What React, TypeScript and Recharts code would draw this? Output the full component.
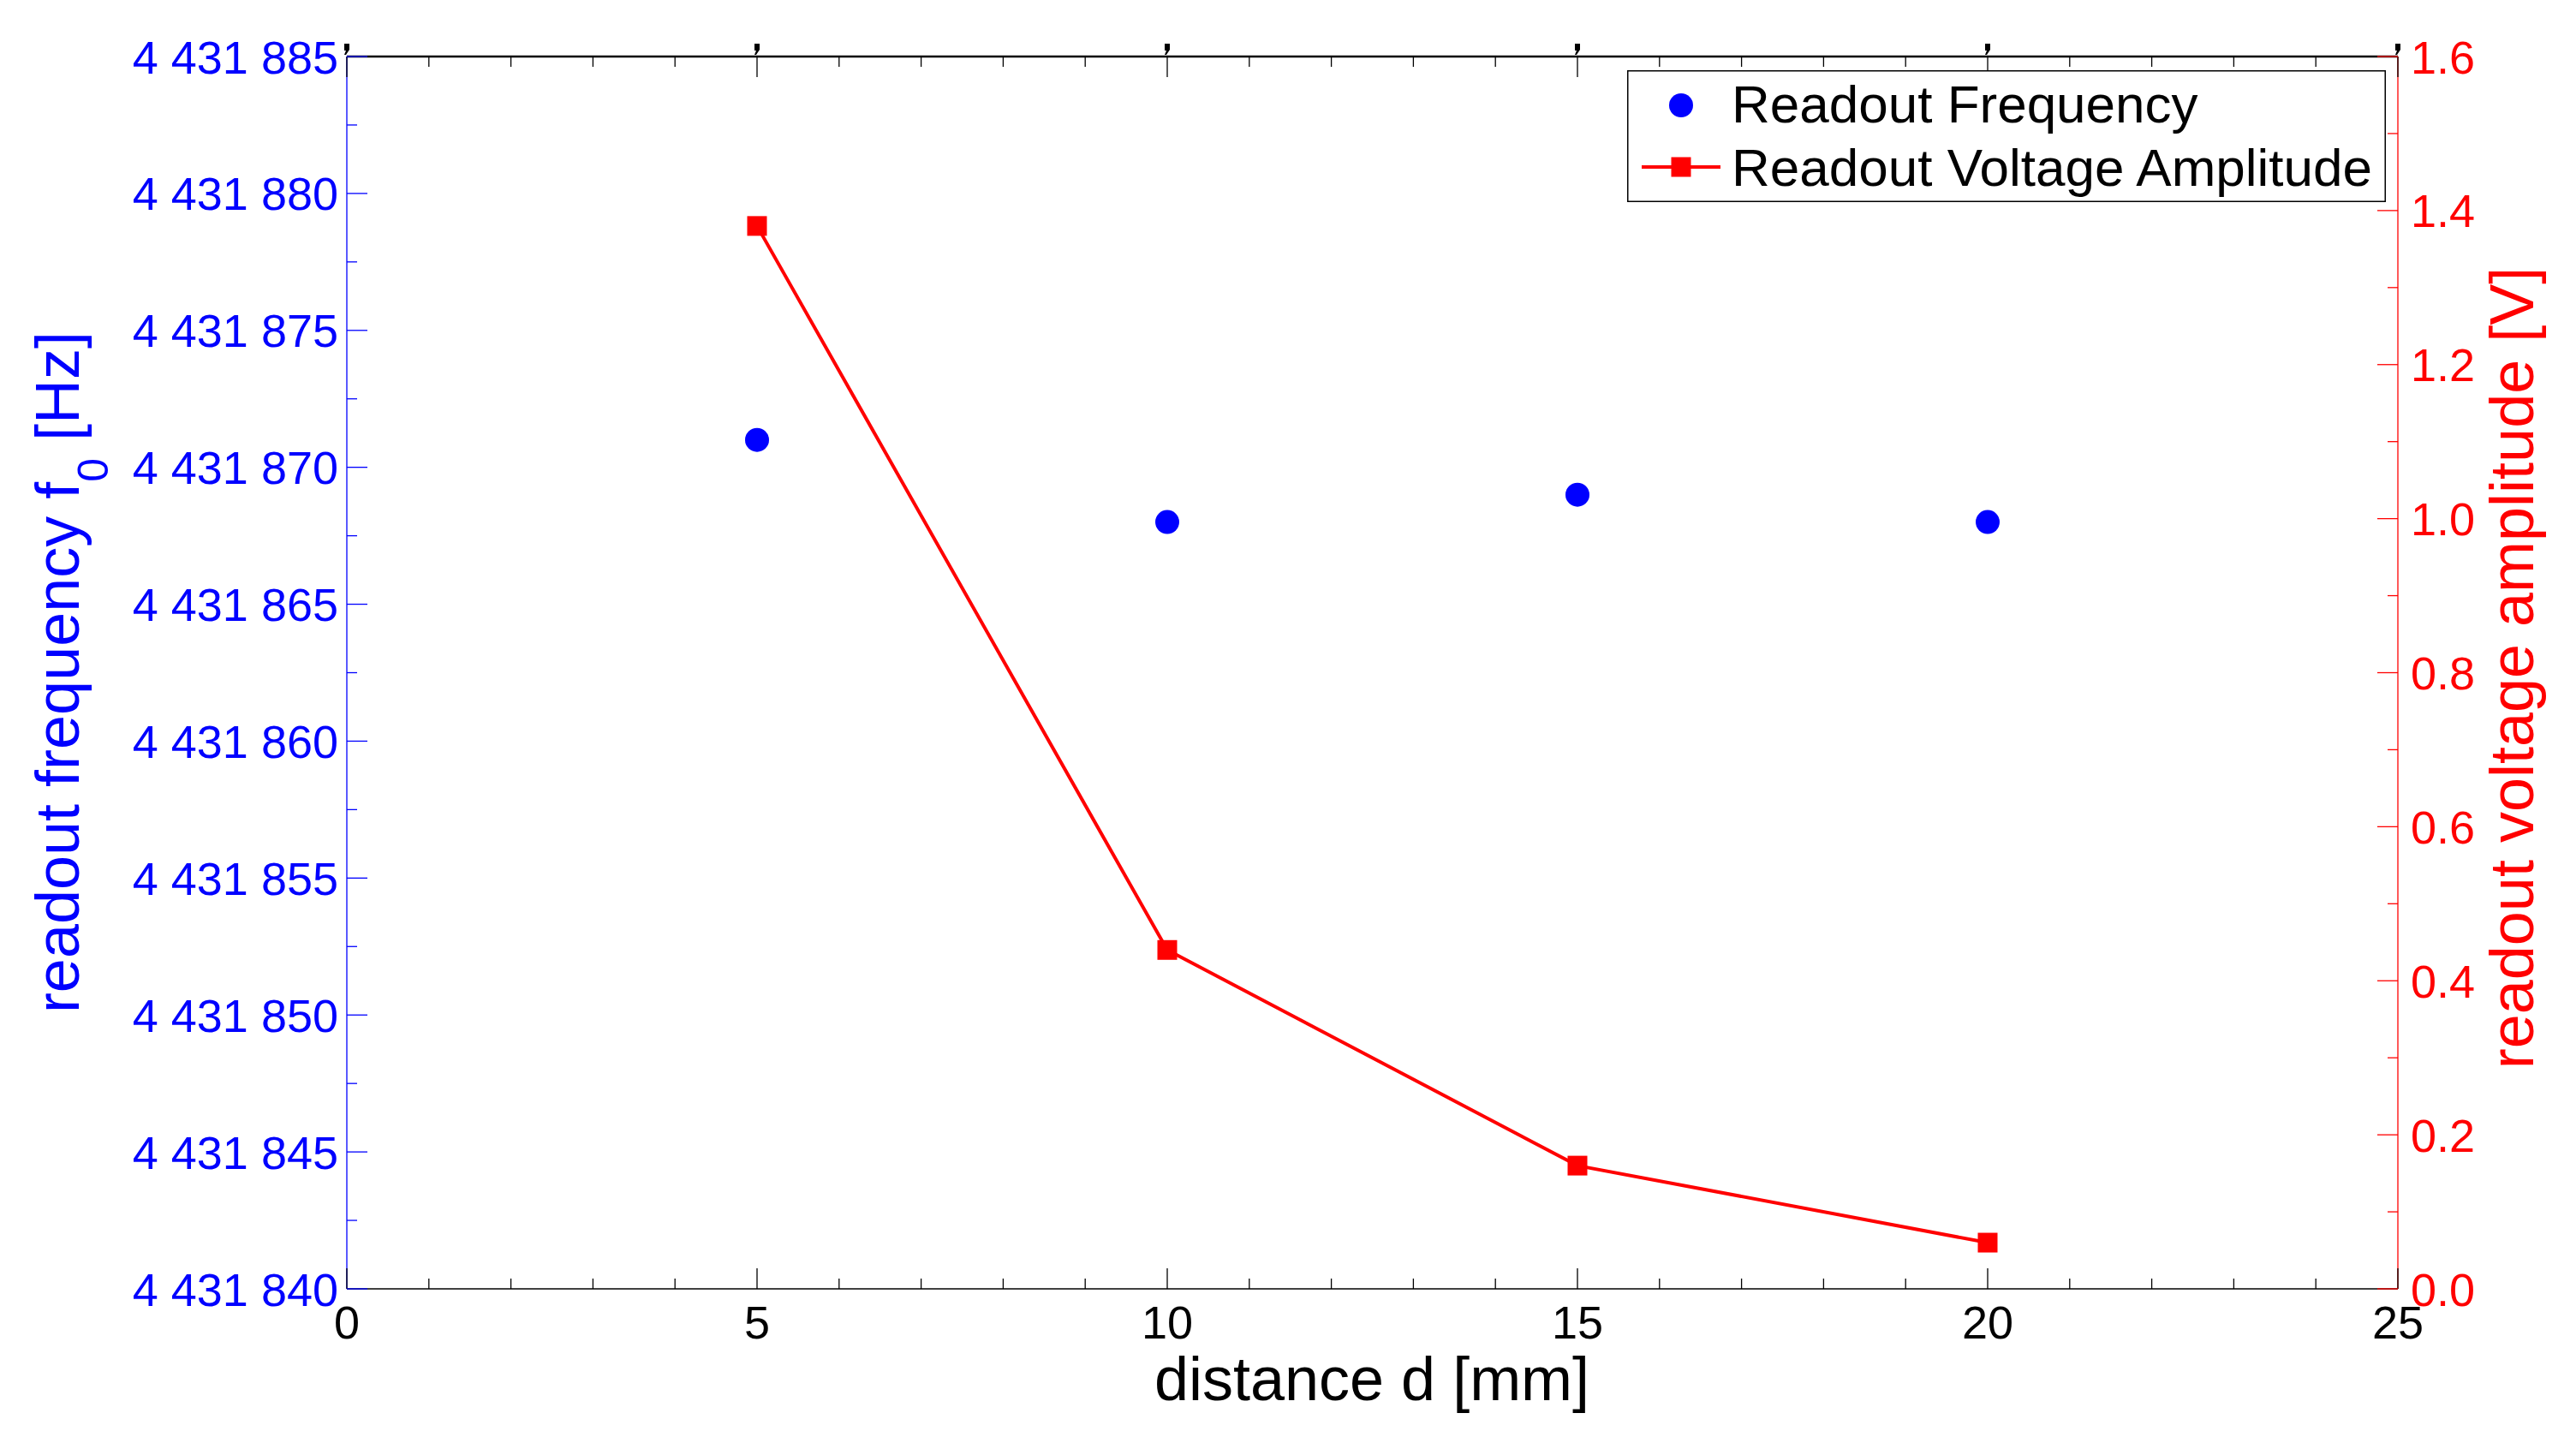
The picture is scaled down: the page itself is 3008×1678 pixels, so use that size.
import React from "react";
import { ComposedChart, Line, Scatter, XAxis, YAxis, Legend, Label } from "recharts";

const distance = [5, 10, 15, 20];
const frequency = [4431871, 4431868, 4431869, 4431868];
const voltage = [1.38, 0.44, 0.16, 0.06];

const xTicks = [0, 1, 2, 3, 4, 5, 6, 7, 8, 9, 10, 11, 12, 13, 14, 15, 16, 17, 18, 19, 20, 21, 22, 23, 24, 25];
const xLabeled = [0, 5, 10, 15, 20, 25];
const freqTicks = [
  4431840, 4431842.5, 4431845, 4431847.5, 4431850, 4431852.5, 4431855, 4431857.5, 4431860, 4431862.5,
  4431865, 4431867.5, 4431870, 4431872.5, 4431875, 4431877.5, 4431880, 4431882.5, 4431885,
];
const freqLabeled = [4431840, 4431845, 4431850, 4431855, 4431860, 4431865, 4431870, 4431875, 4431880, 4431885];
const voltTicks = [0, 0.1, 0.2, 0.3, 0.4, 0.5, 0.6, 0.7, 0.8, 0.9, 1.0, 1.1, 1.2, 1.3, 1.4, 1.5, 1.6];
const voltLabeled = [0, 0.2, 0.4, 0.6, 0.8, 1.0, 1.2, 1.4, 1.6];

const data = distance.map((d, i) => ({ d, freq: frequency[i], volt: voltage[i] }));

const FONT = "'Liberation Sans', Arial, Helvetica, sans-serif";
const BLUE = "#0000FF";
const RED = "#FF0000";
const MAJOR = 24;
const MINOR = 12;

function spaced(v: number) {
  return String(Math.round(v)).replace(/\B(?=(\d{3})+(?!\d))/g, " ");
}

function BottomTick({ x, y, payload }: any) {
  const major = xLabeled.includes(payload.value);
  return (
    <g>
      <line x1={x} x2={x} y1={y} y2={y - (major ? MAJOR : MINOR)} stroke="#000" strokeWidth={1.3} />
      {major && (
        <text x={x} y={y + 58} textAnchor="middle" fontSize={54} fontFamily={FONT} fill="#000">
          {payload.value}
        </text>
      )}
    </g>
  );
}

function TopTick({ x, y, payload }: any) {
  const major = xLabeled.includes(payload.value);
  return (
    <g>
      <line x1={x} x2={x} y1={y} y2={y + (major ? MAJOR : MINOR)} stroke="#000" strokeWidth={1.3} />
      {major && (
        <path d={`M${x - 3} ${y - 15} h6 v7 l-4 6 h-2 l2 -5 h-2 z`} fill="#000" />
      )}
    </g>
  );
}

function LeftTick({ x, y, payload }: any) {
  const major = freqLabeled.includes(payload.value);
  return (
    <g>
      <line x1={x} x2={x + (major ? MAJOR : MINOR)} y1={y} y2={y} stroke={BLUE} strokeWidth={1.3} />
      {major && (
        <text x={x - 10} y={y + 19.5} textAnchor="end" fontSize={54} fontFamily={FONT} fill={BLUE}>
          {spaced(payload.value)}
        </text>
      )}
    </g>
  );
}

function RightTick({ x, y, payload }: any) {
  const major = voltLabeled.includes(payload.value);
  return (
    <g>
      <line x1={x} x2={x - (major ? MAJOR : MINOR)} y1={y} y2={y} stroke={RED} strokeWidth={1.3} />
      {major && (
        <text x={x + 15} y={y + 19.5} textAnchor="start" fontSize={54} fontFamily={FONT} fill={RED}>
          {payload.value.toFixed(1)}
        </text>
      )}
    </g>
  );
}

function Dot({ cx, cy }: any) {
  return <circle cx={cx} cy={cy} r={14} fill={BLUE} />;
}

function SquareDot({ cx, cy, index }: any) {
  return <rect key={index} x={cx - 11.5} y={cy - 11.5} width={23} height={23} fill={RED} />;
}

function LegendBox() {
  return (
    <svg width={886} height={154} style={{ display: "block" }}>
      <rect x={0.75} y={0.75} width={884.5} height={152.5} fill="#fff" stroke="#000" strokeWidth={1.5} />
      <circle cx={63} cy={41} r={14} fill={BLUE} />
      <line x1={17} x2={109} y1={113} y2={113} stroke={RED} strokeWidth={4} />
      <rect x={51.5} y={101.5} width={23} height={23} fill={RED} />
      <text x={122} y={61} fontSize={62} fontFamily={FONT} fill="#000">
        Readout Frequency
      </text>
      <text x={122} y={135} fontSize={62} fontFamily={FONT} fill="#000">
        Readout Voltage Amplitude
      </text>
    </svg>
  );
}

function LeftTitle() {
  return (
    <text
      x={92}
      y={785}
      transform="rotate(-90 92 785)"
      textAnchor="middle"
      fontSize={72}
      fontFamily={FONT}
      fill={BLUE}
    >
      readout frequency f
      <tspan fontSize={50} dy={34}>0</tspan>
      <tspan dy={-34}> [Hz]</tspan>
    </text>
  );
}

function RightTitle() {
  return (
    <text
      x={2958}
      y={780}
      transform="rotate(-90 2958 780)"
      textAnchor="middle"
      fontSize={72}
      fontFamily={FONT}
      fill={RED}
    >
      readout voltage amplitude [V]
    </text>
  );
}

function BottomTitle() {
  return (
    <text x={1602} y={1635} textAnchor="middle" fontSize={72} fontFamily={FONT} fill="#000">
      distance d [mm]
    </text>
  );
}

export default function App() {
  return (
    <div style={{ position: "absolute", left: 0, top: 0, background: "#fff" }}>
      <ComposedChart width={3008} height={1678} data={data} margin={{ top: 36, right: 0, bottom: 0, left: 0 }}>
        <XAxis
          xAxisId="bottom"
          dataKey="d"
          type="number"
          domain={[0, 25]}
          allowDataOverflow
          ticks={xTicks}
          interval={0}
          height={173}
          tickSize={0}
          tickMargin={0}
          tickLine={false}
          axisLine={{ stroke: "#000", strokeWidth: 1.3 }}
          tick={<BottomTick />}
        >
          <Label content={<BottomTitle />} />
        </XAxis>
        <XAxis
          xAxisId="top"
          dataKey="d"
          orientation="top"
          type="number"
          domain={[0, 25]}
          allowDataOverflow
          ticks={xTicks}
          interval={0}
          height={30}
          tickSize={0}
          tickMargin={0}
          tickLine={false}
          axisLine={{ stroke: "#000", strokeWidth: 2.5 }}
          tick={<TopTick />}
        />
        <YAxis
          yAxisId="left"
          type="number"
          domain={[4431840, 4431885]}
          allowDataOverflow
          ticks={freqTicks}
          interval={0}
          width={405}
          tickSize={0}
          tickMargin={0}
          tickLine={false}
          axisLine={{ stroke: BLUE, strokeWidth: 1.3 }}
          tick={<LeftTick />}
        >
          <Label content={<LeftTitle />} />
        </YAxis>
        <YAxis
          yAxisId="right"
          orientation="right"
          type="number"
          domain={[0, 1.6]}
          allowDataOverflow
          ticks={voltTicks}
          interval={0}
          width={208}
          tickSize={0}
          tickMargin={0}
          tickLine={false}
          axisLine={{ stroke: RED, strokeWidth: 1.3 }}
          tick={<RightTick />}
        >
          <Label content={<RightTitle />} />
        </YAxis>
        <Legend
          layout="vertical"
          align="center"
          verticalAlign="middle"
          content={<LegendBox />}
          wrapperStyle={{ position: "absolute", left: 1900, top: 82, width: 886, height: 154 }}
        />
        <Line
          xAxisId="bottom"
          yAxisId="right"
          type="linear"
          dataKey="volt"
          name="Readout Voltage Amplitude"
          stroke={RED}
          strokeWidth={4}
          dot={<SquareDot />}
          activeDot={false}
          isAnimationActive={false}
        />
        <Scatter
          xAxisId="bottom"
          yAxisId="left"
          dataKey="freq"
          name="Readout Frequency"
          shape={<Dot />}
          isAnimationActive={false}
        />
      </ComposedChart>
    </div>
  );
}
